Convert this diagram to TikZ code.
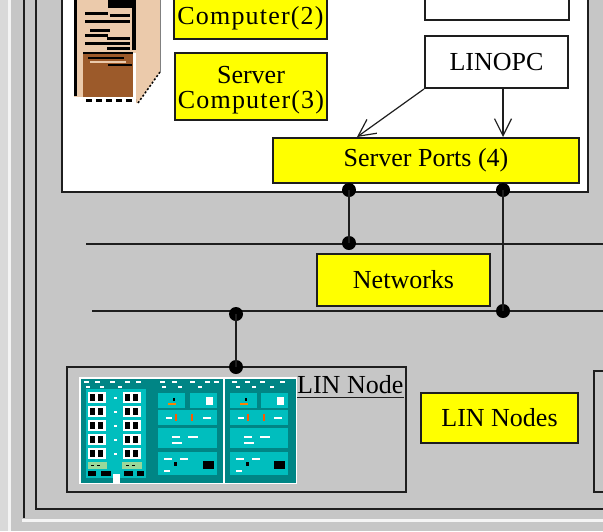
\documentclass[tikz,border=0pt]{standalone}
\usepackage{fontspec}
\setmainfont{Liberation Serif}
\usetikzlibrary{arrows.meta}

\definecolor{bg}{HTML}{C6C6C6}
\definecolor{rim}{HTML}{D9D9D9}
\definecolor{hilite}{HTML}{F4F4F4}
\definecolor{ink}{HTML}{1E1E1E}
\definecolor{boxyellow}{HTML}{FFFF00}
\definecolor{peach}{HTML}{EBCAAB}
\definecolor{drawer}{HTML}{9C5A2A}
\definecolor{tealdark}{HTML}{008585}
\definecolor{tealmid}{HTML}{00BEBE}
\definecolor{leafgreen}{HTML}{9AD89A}

% wider tracking for the computer names
\newcommand{\wideword}[1]{{\addfontfeature{LetterSpace=4.5}#1}}

\tikzset{
  label text/.style={font=\fontsize{26}{25}\selectfont, text=black},
  ybox/.style={draw=ink, fill=boxyellow, line width=2pt, inner sep=0pt,
               align=center, label text},
  wbox/.style={draw=ink, fill=white, line width=2pt, inner sep=0pt,
               align=center, label text},
  roombox/.style={draw=ink, fill=white, line width=2.4pt, inner sep=0pt},
  nodebox/.style={draw=ink, line width=2pt, inner sep=0pt},
  wire/.style={draw=ink, line width=2pt},
  framestroke/.style={draw=ink, line width=2.4pt},
  junction/.style={circle, fill=black, minimum size=14pt, inner sep=0pt},
  feed/.style={draw=ink, line width=1.2pt,
               -{Straight Barb[length=17pt,width=17pt,line width=1.2pt]}},
}

\begin{document}
\begin{tikzpicture}[x=1pt,y=-1pt]
\clip (0,0) rectangle (603,531);
\useasboundingbox (0,0) rectangle (603,531);

% window background and sunken frames
\fill[bg] (0,0) rectangle (603,531);
\fill[rim] (0,0) rectangle (8,531);
\draw[hilite, line width=2.5pt] (9.5,0) -- (9.5,531);
\draw[framestroke] (24,-5) -- (24,518);
\draw[hilite, line width=2.5pt] (22,520.5) -- (603,520.5);
\draw[framestroke] (36,-5) -- (36,509) -- (610,509);

% server room panel
\node[roombox, minimum width=526pt, minimum height=222pt] (room) at (325,81) {};

% server cabinet
\begin{scope}
  \fill[peach] (136,-5) -- (160,-5) -- (160,72) -- (138,103) -- (136,103) -- cycle;
  \fill[peach] (74,-5) rectangle (136,53);
  \fill[peach] (74,53) rectangle (83,97);
  \fill[drawer] (83,53) rectangle (133,97);
  \fill[black] (74,-5) rectangle (77,96);
  \fill[black] (132,-5) rectangle (136,50);
  \fill[black] (108,-5) rectangle (136,8);
  \foreach \xa/\xb/\yy in {85/108/12, 110/130/14, 85/130/20, 90/110/29,
                           85/108/34, 107/130/37, 85/130/42, 107/130/47}
    \fill[black] (\xa,\yy) rectangle (\xb,\yy+2.5);
  \fill[black] (83,52) rectangle (133,54);
  \fill[black] (88,57) rectangle (124,59);
  \fill[peach] (90,60.5) rectangle (126,62.5);
  \fill[black] (108,64) rectangle (132,66);
  \draw[gray, line width=1pt] (160,-5) -- (160,72);
  \draw[black, line width=1.5pt, dash pattern=on 2pt off 2pt] (160,72) -- (138,103);
  \draw[black, line width=3pt, dash pattern=on 6pt off 4pt] (86,100) -- (136,100);
\end{scope}

% boxes in the server room
\node[ybox, minimum width=153pt, minimum height=42pt] (srv2) at (250.5,18) {\wideword{Computer(2)}};
\node[ybox, minimum width=152pt, minimum height=67pt, text height=45pt, text depth=2pt]
  (srv3) at (251,86.5) {Server\\\wideword{Computer(3)}};
\node[wbox, minimum width=144pt, minimum height=50pt] (opctop) at (497,-5) {};
\node[wbox, minimum width=143pt, minimum height=52pt] (lin) at (496.5,62) {LINOPC};
\node[ybox, minimum width=306pt, minimum height=45pt] (sp) at (426,160.5) {Server Ports (4)};

% OPC feeds into the server ports
\coordinate (a1) at (357,0);
\coordinate (a2) at (503,0);
\draw[feed] (lin.south west) -- (sp.north -| a1);
\draw[feed] (lin.south -| a2) -- (sp.north -| a2);

% network buses
\coordinate (n1w) at (86,244);
\coordinate (n1e) at (610,244);
\coordinate (n2w) at (92,311);
\coordinate (n2e) at (610,311);
\draw[wire] (n1w) -- (n1e);
\draw[wire] (n2w) -- (n2e);
\node[ybox, minimum width=173pt, minimum height=52pt] (net) at (403.5,280) {Networks};

% LIN node area
\node[nodebox, minimum width=339pt, minimum height=125pt] (lnbox) at (236.5,429.5) {};
\node[nodebox, minimum width=92pt, minimum height=121pt] (lnnext) at (640,431.5) {};
\node[ybox, minimum width=157pt, minimum height=50pt] (lns) at (499.5,418) {LIN Nodes};
\node[label text, inner sep=0pt, anchor=base west] (lnlabel) at (297,393) {LIN Node};
\draw[ink, line width=1.8pt] ([yshift=-4.5pt]lnlabel.base west) -- ([yshift=-4.5pt]lnlabel.base east);

% rack picture of the LIN node
\begin{scope}
  \fill[white] (79,377) rectangle (297,484);
  \fill[tealdark] (80.5,378.5) rectangle (222.5,482.5);
  \fill[tealdark] (225,378.5) rectangle (295.5,482.5);
  \foreach \xx in {84,95,110,125,136,160,172,190,205,214,232,245,260,280}
    \fill[white] (\xx,381) rectangle (\xx+5,383);
  \foreach \xx in {86,100,118,162,178,198,236,252,270}
    \fill[white] (\xx,386) rectangle (\xx+4,387.5);
  \fill[tealmid] (86,389) rectangle (146,478);
  \foreach \r in {0,...,4} {
    \pgfmathsetmacro\yy{392+14*\r}
    \foreach \xx in {88,123} {
      \fill[white] (\xx,\yy) rectangle (\xx+18,\yy+11);
      \fill[black] (\xx+2,\yy+2) rectangle (\xx+7,\yy+9);
      \fill[black] (\xx+10,\yy+2) rectangle (\xx+15,\yy+9);
    }
    \fill[white] (114,\yy+4.5) rectangle (117,\yy+6.5);
  }
  \fill[leafgreen] (88,462) rectangle (107,469);
  \fill[leafgreen] (122,462) rectangle (142,469);
  \foreach \xx in {91,97,126,132}
    \fill[black] (\xx,464.5) rectangle (\xx+3,466);
  \fill[black] (88,471) rectangle (96,476);
  \fill[black] (101,471) rectangle (111,476);
  \fill[black] (124,471) rectangle (133,476);
  \fill[black] (137,471) rectangle (144,476);
  \fill[white] (113,474) rectangle (120,483);
  \foreach \xl/\xr in {158/217, 230/288} {
    \fill[tealmid] (\xl,393) rectangle ({\xl+27},408);
    \fill[tealmid] ({\xr-27},393) rectangle (\xr,408);
    \fill[tealmid] (\xl,410) rectangle (\xr,425);
    \fill[tealmid] (\xl,428) rectangle (\xr,448);
    \fill[tealmid] (\xl,452) rectangle (\xr,475);
    \fill[white] ({\xr-11},397) rectangle ({\xr-4},405);
    \fill[black] ({\xl+15},398) rectangle ({\xl+17},401);
    \fill[orange] ({\xl+10},403) rectangle ({\xl+18},404.5);
    \fill[orange!70!red] ({\xl+17},414) rectangle ({\xl+19},421);
    \fill[orange!70!red] ({\xl+33},414) rectangle ({\xl+35},421);
    \fill[white] ({\xl+8},417) rectangle ({\xl+14},418.5);
    \fill[white] ({\xr-14},417) rectangle ({\xr-6},418.5);
    \fill[white] ({\xl+14},436) rectangle ({\xl+22},437.5);
    \fill[white] ({\xl+30},436) rectangle ({\xl+40},437.5);
    \fill[white] ({\xl+14},442) rectangle ({\xl+24},443.5);
    \fill[white] ({\xl+6},458) rectangle ({\xl+14},459.5);
    \fill[white] ({\xl+22},458) rectangle ({\xl+30},459.5);
    \fill[black] ({\xl+16},462) rectangle ({\xl+19},466);
    \fill[black] ({\xr-14},461) rectangle ({\xr-3},469);
    \fill[white] ({\xl+6},470) rectangle ({\xl+12},471.5);
  }
\end{scope}

% junctions and drops
\node[junction] (p1) at (349,190) {};
\node[junction] (p2) at (503,190) {};
\node[junction] (j1) at (349,243) {};
\node[junction] (j2) at (503,311) {};
\node[junction] (j3) at (236,314) {};
\node[junction] (j4) at (236,367) {};
\draw[wire] (p1.center) -- (j1.center);
\draw[wire] (p2.center) -- (j2.center);
\draw[wire] (j3.center) -- (j4.center);
\end{tikzpicture}
\end{document}
